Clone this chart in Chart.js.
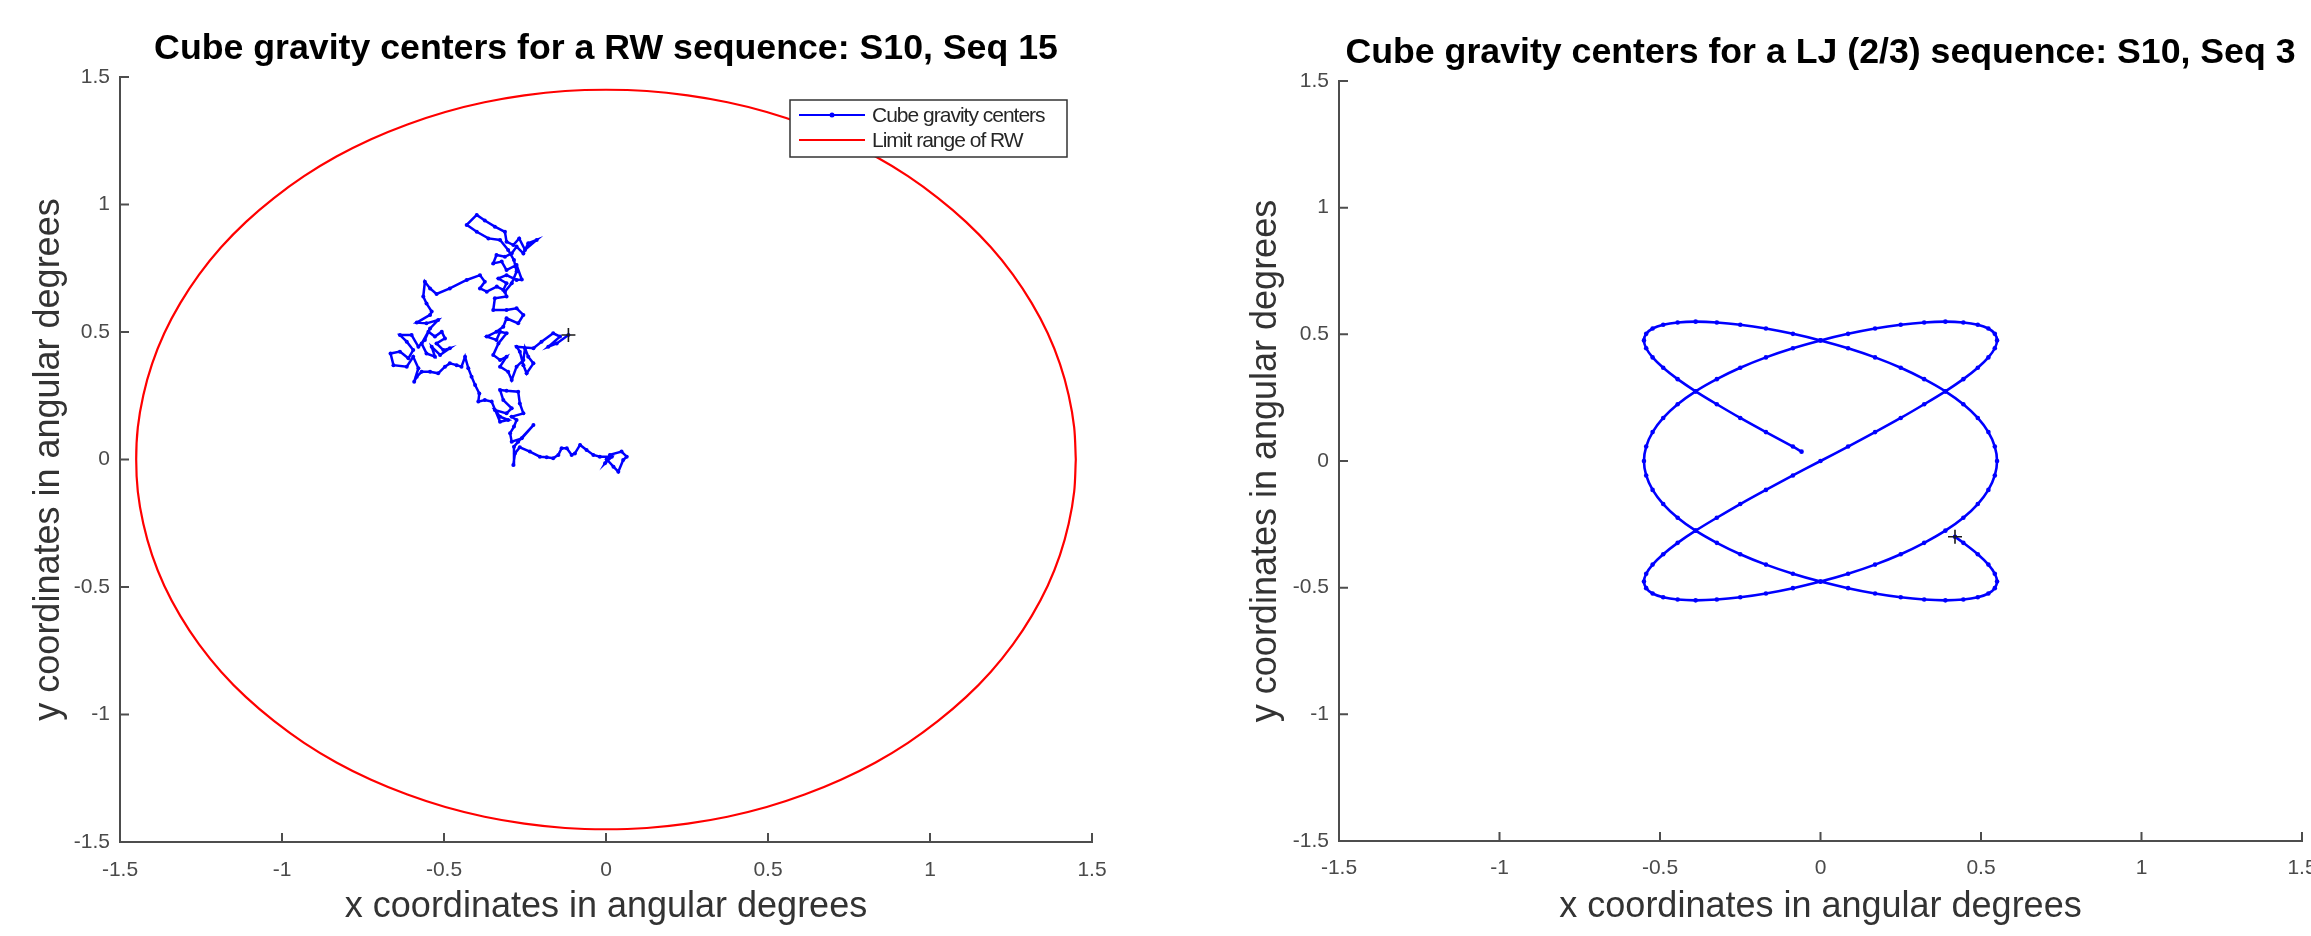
<!DOCTYPE html>
<html>
<head>
<meta charset="utf-8">
<script src="https://cdn.jsdelivr.net/npm/chart.js"></script>
<style>
    html, body { margin: 0; padding: 0; background: #fff; overflow: hidden; }
    #wrap { position: relative; width: 2311px; height: 936px; }
    canvas { position: absolute; top: 0; }
</style>
</head>
<body>
<div id="wrap">
    <canvas id="rwChart" width="1160" height="936" style="left:0px"></canvas>
    <canvas id="ljChart" width="1151" height="936" style="left:1160px"></canvas>
</div>
<script>
// tick values shared by both axes of both plots
const axisTicks = [-1.5, -1, -0.5, 0, 0.5, 1, 1.5]

// random walk (S10, Seq 15)
const rwX = [
    0.002, 0.023, 0.038, 0.053, 0.064, 0.048, 0.012, -0.003, 0.018, -0.019,
    -0.039, -0.060, -0.080, -0.096, -0.106, -0.121, -0.137, -0.147, -0.163, -0.183,
    -0.204, -0.235, -0.266, -0.281, -0.286, -0.284, -0.271, -0.224, -0.260, -0.291,
    -0.296, -0.284, -0.276, -0.291, -0.255, -0.266, -0.271, -0.307, -0.327, -0.317,
    -0.291, -0.307, -0.343, -0.327, -0.302, -0.327, -0.353, -0.374, -0.394, -0.391,
    -0.404, -0.415, -0.425, -0.435, -0.446, -0.461, -0.482, -0.497, -0.518, -0.543,
    -0.569, -0.584, -0.592, -0.579, -0.595, -0.615, -0.656, -0.665, -0.636, -0.610,
    -0.595, -0.615, -0.636, -0.600, -0.579, -0.559, -0.548, -0.528, -0.507, -0.497,
    -0.523, -0.502, -0.482, -0.512, -0.538, -0.528, -0.554, -0.569, -0.543, -0.518,
    -0.554, -0.584, -0.543, -0.538, -0.554, -0.564, -0.559, -0.543, -0.523, -0.482,
    -0.430, -0.389, -0.374, -0.389, -0.368, -0.337, -0.317, -0.307, -0.332, -0.307,
    -0.276, -0.260, -0.276, -0.307, -0.322, -0.348, -0.338, -0.312, -0.291, -0.276,
    -0.255, -0.240, -0.214, -0.250, -0.268, -0.286, -0.307, -0.312, -0.343, -0.374,
    -0.399, -0.430, -0.399, -0.363, -0.327, -0.302, -0.284, -0.276, -0.291, -0.312,
    -0.307, -0.343, -0.348, -0.307, -0.276, -0.255, -0.271, -0.307, -0.317, -0.338,
    -0.368, -0.338, -0.327, -0.307, -0.332, -0.348, -0.327, -0.307, -0.327, -0.302,
    -0.291, -0.276, -0.255, -0.250, -0.240, -0.224, -0.245, -0.255, -0.266, -0.276,
    -0.224, -0.199, -0.163, -0.142, -0.178, -0.152, -0.116
]
const rwY = [
    0.001, -0.028, -0.048, -0.002, 0.011, 0.031, 0.018, -0.015, 0.011, 0.011,
    0.018, 0.037, 0.057, 0.024, 0.018, 0.044, 0.044, 0.018, 0.005, 0.009,
    0.011, 0.031, 0.048, 0.024, -0.022, 0.050, 0.070, 0.135, 0.083, 0.070,
    0.103, 0.129, 0.155, 0.168, 0.181, 0.220, 0.266, 0.270, 0.273, 0.233,
    0.201, 0.181, 0.194, 0.168, 0.155, 0.148, 0.227, 0.233, 0.227, 0.259,
    0.292, 0.325, 0.358, 0.403, 0.364, 0.370, 0.377, 0.364, 0.338, 0.344,
    0.344, 0.325, 0.305, 0.358, 0.403, 0.364, 0.370, 0.416, 0.423, 0.397,
    0.429, 0.462, 0.488, 0.488, 0.442, 0.469, 0.501, 0.482, 0.501, 0.475,
    0.455, 0.429, 0.436, 0.410, 0.442, 0.403, 0.416, 0.455, 0.514, 0.547,
    0.534, 0.537, 0.567, 0.580, 0.612, 0.639, 0.697, 0.671, 0.649, 0.671,
    0.704, 0.723, 0.697, 0.671, 0.658, 0.678, 0.665, 0.691, 0.710, 0.723,
    0.704, 0.706, 0.763, 0.743, 0.776, 0.769, 0.802, 0.795, 0.808, 0.835,
    0.808, 0.848, 0.861, 0.822, 0.867, 0.841, 0.854, 0.893, 0.913, 0.937,
    0.959, 0.920, 0.893, 0.867, 0.861, 0.822, 0.782, 0.737, 0.691, 0.658,
    0.639, 0.632, 0.586, 0.586, 0.593, 0.567, 0.534, 0.554, 0.521, 0.501,
    0.482, 0.469, 0.501, 0.495, 0.455, 0.410, 0.390, 0.403, 0.364, 0.344,
    0.312, 0.364, 0.390, 0.436, 0.403, 0.377, 0.338, 0.370, 0.423, 0.442,
    0.436, 0.462, 0.495, 0.482, 0.442, 0.455, 0.488
]
const rwEnd = [-0.116, 0.488]

// limit range of the random walk (circle of radius ~1.45, every 5 degrees)
const circleX = [
    1.450, 1.445, 1.428, 1.401, 1.363, 1.314, 1.256, 1.188, 1.111, 1.025,
    0.932, 0.832, 0.725, 0.613, 0.496, 0.375, 0.252, 0.126, 0,
    -0.126, -0.252, -0.375, -0.496, -0.613, -0.725, -0.832, -0.932, -1.025,
    -1.111, -1.188, -1.256, -1.314, -1.363, -1.401, -1.428, -1.445, -1.450,
    -1.445, -1.428, -1.401, -1.363, -1.314, -1.256, -1.188, -1.111, -1.025,
    -0.932, -0.832, -0.725, -0.613, -0.496, -0.375, -0.252, -0.126, 0,
    0.126, 0.252, 0.375, 0.496, 0.613, 0.725, 0.832, 0.932, 1.025,
    1.111, 1.188, 1.256, 1.314, 1.363, 1.401, 1.428, 1.445, 1.450
]
const circleY = [
    0, 0.126, 0.252, 0.375, 0.496, 0.613, 0.725, 0.832, 0.932, 1.025,
    1.111, 1.188, 1.256, 1.314, 1.363, 1.401, 1.428, 1.445, 1.450,
    1.445, 1.428, 1.401, 1.363, 1.314, 1.256, 1.188, 1.111, 1.025,
    0.932, 0.832, 0.725, 0.613, 0.496, 0.375, 0.252, 0.126, 0,
    -0.126, -0.252, -0.375, -0.496, -0.613, -0.725, -0.832, -0.932, -1.025,
    -1.111, -1.188, -1.256, -1.314, -1.363, -1.401, -1.428, -1.445, -1.450,
    -1.445, -1.428, -1.401, -1.363, -1.314, -1.256, -1.188, -1.111, -1.025,
    -0.932, -0.832, -0.725, -0.613, -0.496, -0.375, -0.252, -0.126, 0
]

// LJ (2/3) sequence (S10, Seq 3)
const ljX = [
    -0.059,
    -0.086, -0.170, -0.250, -0.323, -0.389, -0.445, -0.490, -0.523, -0.543, -0.550,
    -0.543, -0.523, -0.490, -0.445, -0.389, -0.323, -0.250, -0.170, -0.086, 0,
    0.086, 0.170, 0.250, 0.323, 0.389, 0.445, 0.490, 0.523, 0.543, 0.550,
    0.543, 0.523, 0.490, 0.445, 0.389, 0.323, 0.250, 0.170, 0.086, 0,
    -0.086, -0.170, -0.250, -0.323, -0.389, -0.445, -0.490, -0.523, -0.543, -0.550,
    -0.543, -0.523, -0.490, -0.445, -0.389, -0.323, -0.250, -0.170, -0.086, 0,
    0.086, 0.170, 0.250, 0.323, 0.389, 0.445, 0.490, 0.523, 0.543, 0.550,
    0.543, 0.523, 0.490, 0.445, 0.389, 0.323, 0.250, 0.170, 0.086, 0,
    -0.086, -0.170, -0.250, -0.323, -0.389, -0.445, -0.490, -0.523, -0.543, -0.550,
    -0.543, -0.523, -0.490, -0.445, -0.389, -0.323, -0.250, -0.170, -0.086, 0,
    0.086, 0.170, 0.250, 0.323, 0.389, 0.445, 0.490, 0.523, 0.543, 0.550,
    0.543, 0.523, 0.490, 0.445,
    0.419
]
const ljY = [
    0.037,
    0.057, 0.114, 0.170, 0.224, 0.275, 0.323, 0.368, 0.409, 0.445, 0.476,
    0.502, 0.523, 0.538, 0.547, 0.550, 0.547, 0.538, 0.523, 0.502, 0.476,
    0.445, 0.409, 0.368, 0.323, 0.275, 0.224, 0.170, 0.114, 0.057, 0,
    -0.057, -0.114, -0.170, -0.224, -0.275, -0.323, -0.368, -0.409, -0.445, -0.476,
    -0.502, -0.523, -0.538, -0.547, -0.550, -0.547, -0.538, -0.523, -0.502, -0.476,
    -0.445, -0.409, -0.368, -0.323, -0.275, -0.224, -0.170, -0.114, -0.057, 0,
    0.057, 0.114, 0.170, 0.224, 0.275, 0.323, 0.368, 0.409, 0.445, 0.476,
    0.502, 0.523, 0.538, 0.547, 0.550, 0.547, 0.538, 0.523, 0.502, 0.476,
    0.445, 0.409, 0.368, 0.323, 0.275, 0.224, 0.170, 0.114, 0.057, 0,
    -0.057, -0.114, -0.170, -0.224, -0.275, -0.323, -0.368, -0.409, -0.445, -0.476,
    -0.502, -0.523, -0.538, -0.547, -0.550, -0.547, -0.538, -0.523, -0.502, -0.476,
    -0.445, -0.409, -0.368, -0.323,
    -0.299
]
const ljEnd = [0.419, -0.299]

const FONT = "'Liberation Sans', Arial, Helvetica, sans-serif"
const axisColor = '#4d4d4d'
const tickColor = '#4a4a4a'
const labelColor = '#333333'

Chart.defaults.font.family = FONT

const toPoints = (xs, ys) => xs.map((x, i) => ({ x: x, y: ys[i] }))

// MATLAB style ticks: drawn inward from the left and bottom axes
const inwardTicks = {
    id: 'inwardTicks',
    afterDraw(chart) {
        const { ctx, chartArea } = chart
        const x = chart.scales.x
        const y = chart.scales.y
        ctx.save()
        ctx.strokeStyle = axisColor
        ctx.lineWidth = 2
        ctx.beginPath()
        x.ticks.forEach(t => {
            const px = x.getPixelForValue(t.value)
            ctx.moveTo(px, chartArea.bottom)
            ctx.lineTo(px, chartArea.bottom - 9)
        })
        y.ticks.forEach(t => {
            const py = y.getPixelForValue(t.value)
            ctx.moveTo(chartArea.left, py)
            ctx.lineTo(chartArea.left + 9, py)
        })
        ctx.stroke()
        ctx.restore()
    }
}

// boxed legend inside the top right corner of the plot
const boxLegend = {
    id: 'boxLegend',
    afterDraw(chart, args, opts) {
        if (!opts.items || !opts.items.length) return
        const { ctx, chartArea } = chart
        const w = 277
        const h = 57
        const left = chartArea.right - 25 - w
        const top = chartArea.top + 23
        ctx.save()
        ctx.fillStyle = '#fff'
        ctx.fillRect(left, top, w, h)
        ctx.strokeStyle = '#333'
        ctx.lineWidth = 1.5
        ctx.strokeRect(left, top, w, h)
        ctx.font = '21px ' + FONT
        ctx.letterSpacing = '-1px'
        ctx.textBaseline = 'middle'
        ctx.textAlign = 'left'
        opts.items.forEach((item, i) => {
            const ly = top + 15 + i * 25
            ctx.strokeStyle = item.color
            ctx.lineWidth = 2
            ctx.beginPath()
            ctx.moveTo(left + 9, ly)
            ctx.lineTo(left + 75, ly)
            ctx.stroke()
            if (item.dot) {
                ctx.fillStyle = item.color
                ctx.beginPath()
                ctx.arc(left + 42, ly, 2.5, 0, Math.PI * 2)
                ctx.fill()
            }
            ctx.fillStyle = '#262626'
            ctx.fillText(item.text, left + 82, ly + 1)
        })
        ctx.restore()
    }
}

function makeChart(canvasId, opt) {
    const endPoint = {
        label: 'end',
        data: [{ x: opt.end[0], y: opt.end[1] }],
        showLine: false,
        pointStyle: 'cross',
        pointRadius: 7,
        pointBorderWidth: 1.6,
        pointBorderColor: '#1a1a1a',
        order: 0
    }

    return new Chart(document.getElementById(canvasId), {
        type: 'scatter',
        data: { datasets: [endPoint].concat(opt.datasets) },
        options: {
            responsive: false,
            animation: false,
            events: [],
            layout: { padding: { left: 0, right: opt.padRight, top: 0, bottom: 0 } },
            plugins: {
                legend: { display: false },
                tooltip: { enabled: false },
                title: {
                    display: true,
                    fullSize: false,
                    text: opt.title,
                    color: '#000',
                    font: { family: FONT, size: 35.7, weight: 'bold', lineHeight: 1.2 },
                    padding: { top: opt.titleTop, bottom: 6.66 }
                },
                boxLegend: { items: opt.legend || [] }
            },
            scales: {
                x: {
                    type: 'linear',
                    min: -1.5,
                    max: 1.5,
                    afterBuildTicks: s => { s.ticks = axisTicks.map(v => ({ value: v })) },
                    afterFit: s => {
                        s.height = opt.xHeight
                        s.paddingLeft = 0
                        s.paddingRight = 0
                    },
                    grid: { display: false, drawTicks: false },
                    border: { display: true, color: axisColor, width: 2 },
                    ticks: {
                        color: tickColor,
                        font: { size: 21 },
                        padding: opt.xTickPad,
                        maxRotation: 0,
                        callback: v => String(v)
                    },
                    title: {
                        display: true,
                        text: 'x coordinates in angular degrees',
                        color: labelColor,
                        font: { size: 36, lineHeight: 1.2 },
                        padding: { top: 0, bottom: 7.4 }
                    }
                },
                y: {
                    type: 'linear',
                    min: -1.5,
                    max: 1.5,
                    afterBuildTicks: s => { s.ticks = axisTicks.map(v => ({ value: v })) },
                    afterFit: s => {
                        s.width = opt.yWidth
                        s.paddingTop = 0
                        s.paddingBottom = 0
                    },
                    grid: { display: false, drawTicks: false },
                    border: { display: true, color: axisColor, width: 2 },
                    ticks: {
                        color: tickColor,
                        font: { size: 21 },
                        padding: 10,
                        callback: v => String(v)
                    },
                    title: {
                        display: true,
                        text: 'y coordinates in angular degrees',
                        color: labelColor,
                        font: { size: 36, lineHeight: 1.2 },
                        padding: { top: opt.yTitlePad, bottom: 0 }
                    }
                }
            }
        },
        plugins: [inwardTicks, boxLegend]
    })
}

makeChart('rwChart', {
    title: 'Cube gravity centers for a RW sequence: S10, Seq 15',
    titleTop: 27.5,
    padRight: 68,
    yWidth: 120,
    xHeight: 94,
    xTickPad: 15.4,
    yTitlePad: 27.4,
    end: rwEnd,
    legend: [
        { text: 'Cube gravity centers', color: '#0000ff', dot: true },
        { text: 'Limit range of RW', color: '#ff0000', dot: false }
    ],
    datasets: [
        {
            label: 'Cube gravity centers',
            data: toPoints(rwX, rwY),
            showLine: true,
            borderColor: '#0000ff',
            borderWidth: 2.5,
            pointRadius: 2,
            pointBorderWidth: 0,
            pointBackgroundColor: '#0000ff',
            order: 1
        },
        {
            label: 'Limit range of RW',
            data: toPoints(circleX, circleY),
            showLine: true,
            tension: 0.33,
            borderColor: '#ff0000',
            borderWidth: 2.2,
            pointRadius: 0,
            order: 2
        }
    ]
})

makeChart('ljChart', {
    title: 'Cube gravity centers for a LJ (2/3) sequence: S10, Seq 3',
    titleTop: 31.5,
    padRight: 9,
    yWidth: 179,
    xHeight: 95,
    xTickPad: 14.4,
    yTitlePad: 84.4,
    end: ljEnd,
    datasets: [
        {
            label: 'Cube gravity centers',
            data: toPoints(ljX, ljY),
            showLine: true,
            tension: 0.3,
            borderColor: '#0000ff',
            borderWidth: 2.6,
            pointRadius: 2.3,
            pointBorderWidth: 0,
            pointBackgroundColor: '#0000ff',
            order: 1
        }
    ]
})
</script>
</body>
</html>
